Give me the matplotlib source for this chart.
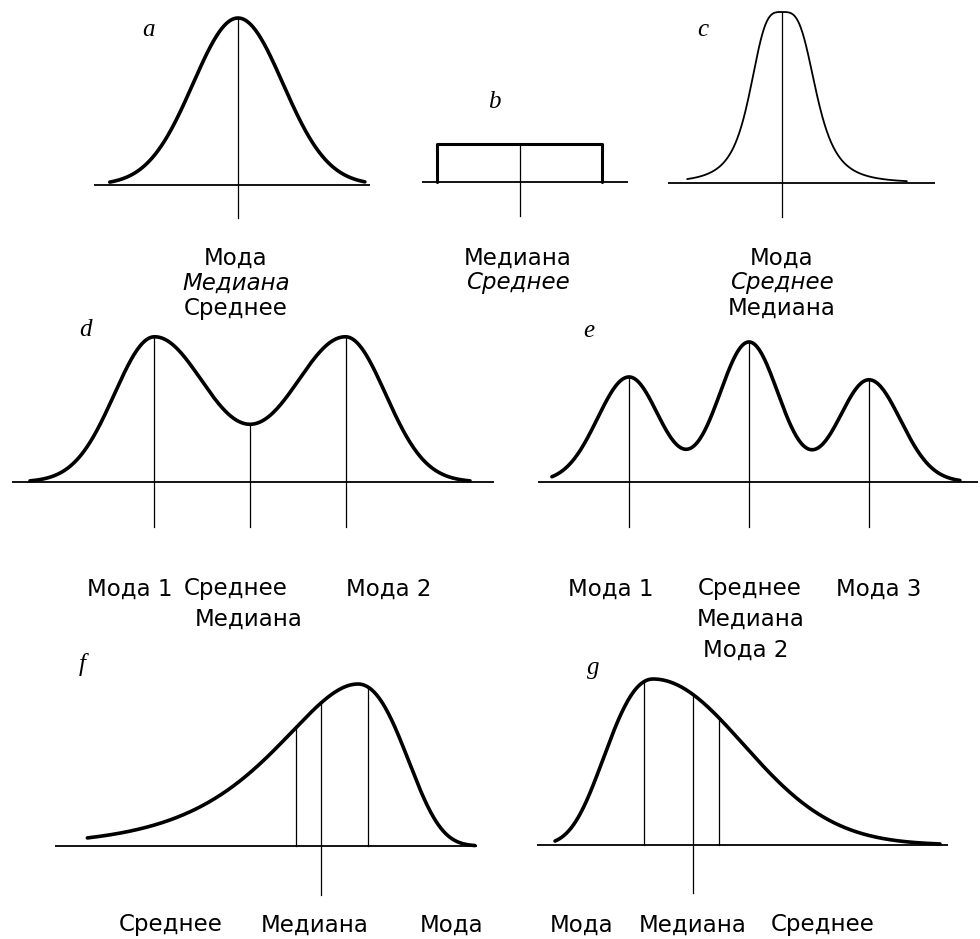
import numpy as np
import matplotlib.pyplot as plt

W, H = 980, 939

# --- shape parameters of the seven distributions (x in each panel's own units) ---

# a: normal curve, mode = median = mean
a_mu, a_sd = 0.0, 1.0
a_span = [-2.85, 2.82]

# b: uniform (rectangle), median = mean in the middle
b_edges = [-1.0, 1.0]
b_center = 0.0

# c: sharp peak with thin tails (slightly longer on the right)
c_mu = 0.0
c_width_left, c_width_right, c_power = 0.97, 1.03, 3.6
c_span = [-2.75, 3.62]

# d: bimodal, two equal humps
d_modes = [-2.39, 2.39]
d_sd_outer, d_sd_inner = 1.0, 1.33
d_center = 0.0
d_span = [-5.5, 5.5]

# e: three humps, the middle one tallest
e_modes = [-4.0, 0.0, 4.0]
e_heights = [0.75, 1.0, 0.73]
e_sd_outer, e_sd_inner = 1.05, 1.0
e_span = [-6.57, 7.03]

# f: long left tail
f_peak, f_beta_left, f_beta_right = 0.0, 1.0, 0.78
f_mean, f_median, f_mode = -0.91, -0.54, 0.15
f_span = [-3.98, 1.72]

# g: long right tail
g_peak, g_beta_left, g_sd_right = 0.0, 0.74, 1.29
g_mode, g_median, g_mean = -0.13, 0.57, 0.94
g_span = [-1.4, 4.1]


def split_gauss(x, mu, sl, sr):
    s = np.where(x < mu, sl, sr)
    return np.exp(-0.5 * ((x - mu) / s) ** 2)


def curve_a(x):
    return np.exp(-0.5 * ((x - a_mu) / a_sd) ** 2)


def curve_c(x):
    w = np.where(x < c_mu, c_width_left, c_width_right)
    return 1.0 / (1.0 + np.abs((x - c_mu) / w) ** c_power)


def curve_d(x):
    left = split_gauss(x, d_modes[0], d_sd_outer, d_sd_inner)
    right = split_gauss(x, d_modes[1], d_sd_inner, d_sd_outer)
    return left + right


def curve_e(x):
    y = np.zeros_like(np.asarray(x, dtype=float))
    sds = [(e_sd_outer, e_sd_inner), (e_sd_inner, e_sd_inner), (e_sd_inner, e_sd_outer)]
    for m, h, (sl, sr) in zip(e_modes, e_heights, sds):
        y = y + h * split_gauss(x, m, sl, sr)
    return y


def curve_f(x):
    z = (x - f_peak) / np.where(x < f_peak, f_beta_left, f_beta_right)
    return np.exp(z - np.exp(z) + 1)


def curve_g(x):
    z = (x - g_peak) / g_beta_left
    left = np.exp(-z - np.exp(-z) + 1)
    right = np.exp(-0.5 * ((x - g_peak) / g_sd_right) ** 2)
    return np.where(x < g_peak, left, right)


fig = plt.figure(figsize=(W / 100, H / 100), dpi=100)
fig.patch.set_facecolor('white')


def panel(cx, base, sx, sy):
    # full-figure axes: x=0 sits at pixel column cx, y=0 on the baseline row
    ax = fig.add_axes([0, 0, 1, 1])
    ax.set_xlim(-cx / sx, (W - cx) / sx)
    ax.set_ylim((base - H) / sy, base / sy)
    ax.axis('off')
    return ax


def baseline(ax, x0, x1):
    ax.plot([x0, x1], [0, 0], color='k', lw=1.3, solid_capstyle='butt')


def stem(ax, xv, top, bottom=0.0):
    ax.plot([xv, xv], [bottom, top], color='k', lw=0.9)


def bold(ax, x, y, lw=2.6):
    ax.plot(x, y, color='k', lw=lw, solid_capstyle='round', solid_joinstyle='round')


def txt(px, py, s, italic=False):
    fig.text(px / W, 1 - py / H, s, ha='center', va='center', fontsize=16.5,
             family='DejaVu Sans', style='oblique' if italic else 'normal')


def letter(px, py, s):
    fig.text(px / W, 1 - py / H, s, ha='center', va='center', fontsize=18,
             family='Liberation Serif', style='italic')


# a
ax = panel(238, 185, 45, 167)
baseline(ax, -3.2, 2.93)
x = np.linspace(*a_span, 400)
bold(ax, x, curve_a(x))
stem(ax, a_mu, curve_a(a_mu), -0.2)
letter(148, 30, 'a')

# b
ax = panel(519.5, 182, 82.5, 38)
baseline(ax, -1.18, 1.32)
bold(ax, [b_edges[0], b_edges[0], b_edges[1], b_edges[1]], [0, 1, 1, 0], lw=2.2)
stem(ax, b_center, 1.0, -0.9)
letter(494, 102, 'b')

# c
ax = panel(782, 183, 34.5, 171)
baseline(ax, -3.3, 4.43)
x = np.linspace(*c_span, 500)
bold(ax, x, curve_c(x), lw=1.3)
stem(ax, c_mu, curve_c(c_mu), -0.2)
letter(703, 30, 'c')

# d
ax = panel(250, 482, 40, 145)
baseline(ax, -5.95, 6.1)
x = np.linspace(*d_span, 500)
bold(ax, x, curve_d(x))
for xv in d_modes + [d_center]:
    stem(ax, xv, curve_d(np.array(xv)), -0.31)
letter(85, 330, 'd')

# e
ax = panel(749, 482, 30, 140)
baseline(ax, -7.03, 7.63)
x = np.linspace(*e_span, 500)
bold(ax, x, curve_e(x))
for xv in e_modes:
    stem(ax, xv, curve_e(np.array(xv)), -0.32)
letter(589, 331, 'e')

# f
ax = panel(358, 846, 68, 162)
baseline(ax, -4.45, 1.75)
x = np.linspace(*f_span, 500)
bold(ax, x, curve_f(x))
stem(ax, f_mean, curve_f(np.array(f_mean)))
stem(ax, f_median, curve_f(np.array(f_median)), -0.30)
stem(ax, f_mode, curve_f(np.array(f_mode)))
letter(82, 665, 'f')

# g
ax = panel(653, 845, 70, 166)
baseline(ax, -1.66, 4.21)
x = np.linspace(*g_span, 500)
bold(ax, x, curve_g(x))
stem(ax, g_mode, curve_g(np.array(g_mode)))
stem(ax, g_median, curve_g(np.array(g_median)), -0.29)
stem(ax, g_mean, curve_g(np.array(g_mean)))
letter(593, 668, 'g')

# labels under the curves
txt(236, 258, 'Мода')
txt(236, 283, 'Медиана', italic=True)
txt(236, 308, 'Среднее')

txt(518, 258, 'Медиана')
txt(518, 283, 'Среднее', italic=True)

txt(782, 258, 'Мода')
txt(782, 283, 'Среднее', italic=True)
txt(782, 308, 'Медиана')

txt(130, 589, 'Мода 1')
txt(236, 589, 'Среднее')
txt(249, 619, 'Медиана')
txt(389, 589, 'Мода 2')

txt(611, 589, 'Мода 1')
txt(750, 589, 'Среднее')
txt(751, 619, 'Медиана')
txt(746, 650, 'Мода 2')
txt(879, 589, 'Мода 3')

txt(171, 925, 'Среднее')
txt(315, 925, 'Медиана')
txt(452, 925, 'Мода')
txt(582, 925, 'Мода')
txt(693, 925, 'Медиана')
txt(823, 925, 'Среднее')

fig.savefig('out.png', dpi=100, facecolor='white')
